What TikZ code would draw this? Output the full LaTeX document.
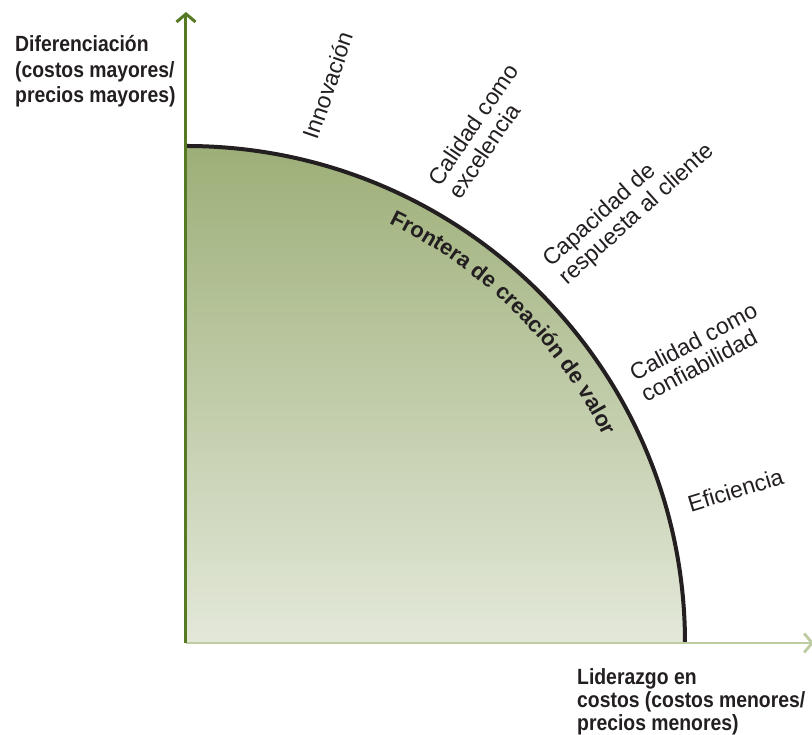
\documentclass[tikz,border=0pt]{standalone}
\usepackage{fontspec}
\setmainfont{Liberation Sans}
\newfontfamily\condfont[FakeStretch=0.88]{Liberation Sans}
\usetikzlibrary{arrows.meta,decorations.text}
\definecolor{axisgreen}{HTML}{557A23}
\definecolor{axislight}{HTML}{BECCA2}
\definecolor{filltop}{HTML}{9DAF78}
\definecolor{fillbot}{HTML}{E3E8D9}
\definecolor{curveblack}{HTML}{231F20}
\tikzset{
  lbl/.style={font=\fontsize{23}{24}\selectfont, align=left, inner sep=0pt, text=curveblack},
  axlbl/.style={font=\condfont\bfseries\fontsize{22}{25.5}\selectfont, align=left, inner sep=0pt, anchor=base west, text=curveblack},
  axlbltwo/.style={font=\condfont\bfseries\fontsize{22}{23}\selectfont, align=left, inner sep=0pt, anchor=base west, text=curveblack},
  chevron/.style={-{Straight Barb[length=8pt,width=19pt]}}
}
\begin{document}
\begin{tikzpicture}[x=1pt,y=1pt]
\useasboundingbox (-186,-92) rectangle (626,643);
\coordinate (O) at (0,0);
\coordinate (ytop) at (0,631);
\coordinate (xend) at (628,0);
\coordinate (A) at (0,497);
\coordinate (B) at (499,0);
% filled region
\shade[top color=filltop,bottom color=fillbot] (O) -- (A) arc[start angle=90,end angle=0,x radius=499,y radius=497] -- cycle;
% frontier curve
\draw[curveblack,line width=4pt] (A) arc[start angle=90,end angle=0,x radius=499,y radius=497];
% axes
\draw[axislight,line width=2.8pt,chevron] (O) -- (xend);
\draw[axisgreen,line width=3pt,chevron] (O) -- (ytop);
% curve label
\path[decorate,decoration={text along path,text color=curveblack,
  text={|\bfseries\fontsize{22}{26}\selectfont|Frontera de creación de valor},text align=left}]
  (64.2:466) arc[start angle=64.2,end angle=18,radius=466];
% axis labels (anchor at baseline of the last line)
\node[axlbl] (ylab) at (-171,540) {Diferenciación\\(costos mayores/\\precios mayores)};
\node[axlbltwo] (xlab) at (391,-88) {Liderazgo en\\costos (costos menores/\\precios menores)};
% dimension labels
\node[lbl,rotate=71] (innov) at (142,558) {Innovación};
\node[lbl,rotate=56] (excel) at (297,512) {Calidad como\\excelencia};
\node[lbl,rotate=42] (resp) at (443,437) {Capacidad de\\respuesta al cliente};
\node[lbl,rotate=28] (conf) at (513,291) {Calidad como\\confiabilidad};
\node[lbl,rotate=17] (efic) at (549.5,153) {Eficiencia};
\end{tikzpicture}
\end{document}
